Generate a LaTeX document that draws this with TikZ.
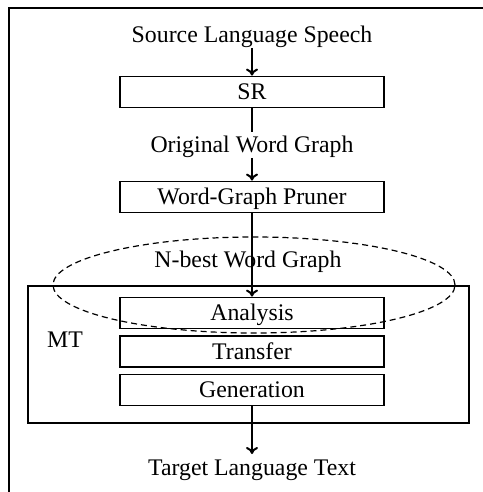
\documentclass[tikz,border=0pt]{standalone}
\usepackage{fontspec}
\setmainfont{Liberation Serif}
\usetikzlibrary{arrows.meta}

\begin{document}
\begin{tikzpicture}[x=0.5bp,y=-0.5bp,
  every node/.style={font=\fontsize{11.9bp}{14bp}\selectfont},
  label/.style={anchor=base, inner sep=0pt, text height=8bp, text depth=0pt, outer ysep=2.5bp},
  stage/.style={draw, line width=0.9bp, minimum width=132bp, minimum height=15.5bp, inner sep=0pt, text height=7.9bp, text depth=0pt},
  flow/.style={line width=1bp},
  >={To[length=3.5bp,width=6bp]}]
\useasboundingbox (0,0) rectangle (483,492);
\draw[line width=0.7bp] (483,8) -- (9,8) -- (9,492);
% pipeline
\node[label] (src) at (252,43) {Source Language Speech};
\node[stage] (sr) at (252,92) {SR};
\node[label] (orig) at (252,153) {Original Word Graph};
\node[stage] (pruner) at (252,197) {Word-Graph Pruner};
\node[label] (nbest) at (248,267) {N-best Word Graph};
\node[draw, line width=0.9bp, minimum width=220.5bp, minimum height=68.5bp, inner sep=0pt] (mt) at (248.5,354.5) {};
\node[label] (mtlabel) at (65,347) {MT};
\node[stage] (analysis) at (252,313) {Analysis};
\node[stage] (transfer) at (252,351.5) {Transfer};
\node[stage] (generation) at (252,390) {Generation};
\node[label] (tgt) at (252,475) {Target Language Text};
\draw[dashed, dash pattern=on 3bp off 2bp, line width=0.6bp] (254,285) ellipse (100.5bp and 24bp);
% connectors
\draw[flow,->] (src.south) -- (sr.north);
\draw[flow] (sr.south) -- (orig.north);
\draw[flow,->] (orig.south) -- (pruner.north);
\draw[flow,->] (pruner.south) -- (analysis.north);
\draw[flow,->] (generation.south) -- (tgt.north);
\end{tikzpicture}
\end{document}
